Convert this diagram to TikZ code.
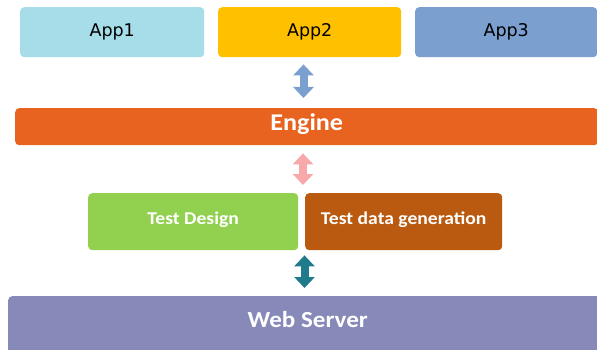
\documentclass[tikz,border=0pt]{standalone}
\usepackage{fontspec}
\usetikzlibrary{arrows.meta,calc}
\newfontfamily\appfont{DejaVu Sans}
\newfontfamily\hdfont[FakeStretch=1.09]{Carlito}
\definecolor{cApp1}{HTML}{A6DDE9}
\definecolor{cApp2}{HTML}{FFC000}
\definecolor{cApp3}{HTML}{7B9FCF}
\definecolor{cEngine}{HTML}{E8631F}
\definecolor{cDesign}{HTML}{92D050}
\definecolor{cGen}{HTML}{BA5A10}
\definecolor{cWeb}{HTML}{878AB8}
\definecolor{cArrA}{HTML}{7B9FCF}
\definecolor{cArrB}{HTML}{F7A9AA}
\definecolor{cArrC}{HTML}{1F7A8C}
\tikzset{
  box/.style={anchor=north west, rounded corners=4pt, inner sep=0pt, align=center},
  appbox/.style={box, minimum width=184pt, minimum height=50pt, font=\appfont\fontsize{17.5}{20}\selectfont, text=black},
  boldbox/.style={box, font=\hdfont\bfseries, text=white},
  dblarrow/.style={draw=#1, line width=8pt,
    {Triangle[length=11pt,width=20pt]}-{Triangle[length=11pt,width=20pt]}}
}
\begin{document}
\begin{tikzpicture}[x=1pt,y=-1pt]
\useasboundingbox (0,0) rectangle (597,350);
\fill[white] (0,0) rectangle (597,350);
\begin{scope}
\clip (0,0) rectangle (597,350);
\node[appbox, fill=cApp1] (app1) at (20,7) {App1};
\node[appbox, fill=cApp2, minimum width=183pt] (app2) at (218,7) {App2};
\node[appbox, fill=cApp3, minimum width=182pt] (app3) at (415,7) {App3};
\node[boldbox, fill=cEngine, minimum width=583pt, minimum height=37pt,
      text height=16pt, text depth=8.6pt,
      font=\hdfont\bfseries\fontsize{24}{28}\selectfont] (engine) at (15,108) {Engine};
\node[boldbox, fill=cDesign, minimum width=210pt, minimum height=57pt,
      text height=12pt, text depth=7.4pt,
      font=\hdfont\bfseries\fontsize{18}{22}\selectfont] (design) at (88,193) {Test Design};
\node[boldbox, fill=cGen, minimum width=197pt, minimum height=57pt,
      text height=12pt, text depth=7.4pt,
      font=\hdfont\bfseries\fontsize{18}{22}\selectfont] (gen) at (305,193) {Test data generation};
\node[boldbox, fill=cWeb, minimum width=599pt, minimum height=58pt,
      text height=15pt, text depth=10pt,
      font=\hdfont\bfseries\fontsize{23}{27}\selectfont] (web) at (8,296) {Web Server};
\end{scope}
\coordinate (ax) at (303.5,0);
\coordinate (bx) at (303,0);
\coordinate (cx) at (304.5,0);
\draw[dblarrow=cArrA, shorten <=7pt, shorten >=10pt] (app2.south -| ax) -- (engine.north -| ax);
\draw[dblarrow=cArrB, shorten <=8pt, shorten >=8pt] (engine.south -| bx) -- (design.north -| bx);
\draw[dblarrow=cArrC, shorten <=5pt, shorten >=8pt] (design.south -| cx) -- (web.north -| cx);
\end{tikzpicture}
\end{document}
